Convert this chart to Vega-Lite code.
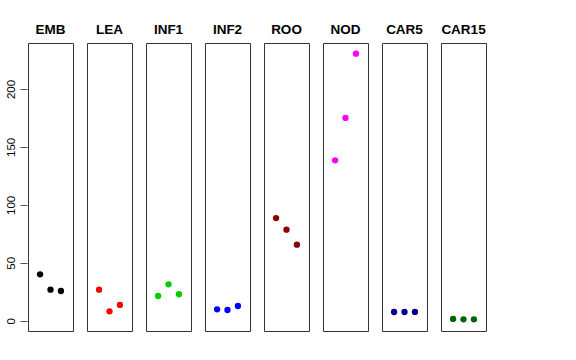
{
  "$schema": "https://vega.github.io/schema/vega-lite/v6.json",
  "padding": {"left": 5, "top": 23, "right": 5, "bottom": 5},
  "background": "white",
  "data": {"values": [
    {"tissue": "EMB", "rep": 1, "value": 40.0},
    {"tissue": "EMB", "rep": 2, "value": 26.8},
    {"tissue": "EMB", "rep": 3, "value": 25.6},
    {"tissue": "LEA", "rep": 1, "value": 26.8},
    {"tissue": "LEA", "rep": 2, "value": 8.1},
    {"tissue": "LEA", "rep": 3, "value": 13.6},
    {"tissue": "INF1", "rep": 1, "value": 21.3},
    {"tissue": "INF1", "rep": 2, "value": 31.4},
    {"tissue": "INF1", "rep": 3, "value": 22.8},
    {"tissue": "INF2", "rep": 1, "value": 9.8},
    {"tissue": "INF2", "rep": 2, "value": 9.2},
    {"tissue": "INF2", "rep": 3, "value": 12.7},
    {"tissue": "ROO", "rep": 1, "value": 88.6},
    {"tissue": "ROO", "rep": 2, "value": 78.6},
    {"tissue": "ROO", "rep": 3, "value": 65.6},
    {"tissue": "NOD", "rep": 1, "value": 138.4},
    {"tissue": "NOD", "rep": 2, "value": 175.0},
    {"tissue": "NOD", "rep": 3, "value": 230.5},
    {"tissue": "CAR5", "rep": 1, "value": 7.5},
    {"tissue": "CAR5", "rep": 2, "value": 7.5},
    {"tissue": "CAR5", "rep": 3, "value": 7.6},
    {"tissue": "CAR15", "rep": 1, "value": 1.5},
    {"tissue": "CAR15", "rep": 2, "value": 1.2},
    {"tissue": "CAR15", "rep": 3, "value": 1.2}
  ]},
  "facet": {
    "column": {
      "field": "tissue",
      "type": "nominal",
      "sort": ["EMB", "LEA", "INF1", "INF2", "ROO", "NOD", "CAR5", "CAR15"],
      "title": null,
      "header": {
        "labelFontSize": 13.5,
        "labelFontWeight": "bold",
        "labelFont": "Liberation Sans",
        "labelColor": "black",
        "labelPadding": 5.5
      }
    }
  },
  "spacing": 12,
  "spec": {
    "width": 45,
    "height": 288,
    "mark": {"type": "point", "filled": true, "opacity": 1, "size": 40},
    "encoding": {
      "x": {
        "field": "rep",
        "type": "quantitative",
        "scale": {"domain": [-0.16, 4.16], "nice": false, "zero": false},
        "axis": null
      },
      "y": {
        "field": "value",
        "type": "quantitative",
        "scale": {"domain": [-8.9, 239.7], "nice": false, "zero": false},
        "axis": {
          "title": null,
          "values": [0, 50, 100, 150, 200],
          "grid": false,
          "domain": false,
          "tickSize": 7,
          "tickColor": "#555",
          "labelAngle": -90,
          "labelFont": "Liberation Sans",
          "labelFontSize": 11.5,
          "labelColor": "black",
          "labelPadding": 4
        }
      },
      "color": {
        "field": "tissue",
        "type": "nominal",
        "scale": {
          "domain": ["EMB", "LEA", "INF1", "INF2", "ROO", "NOD", "CAR5", "CAR15"],
          "range": ["#000000", "#FF0000", "#00CD00", "#0000FF", "#8B0000", "#FF00FF", "#00008B", "#006400"]
        },
        "legend": null
      }
    }
  },
  "config": {
    "view": {"stroke": "#333", "strokeWidth": 1}
  }
}
